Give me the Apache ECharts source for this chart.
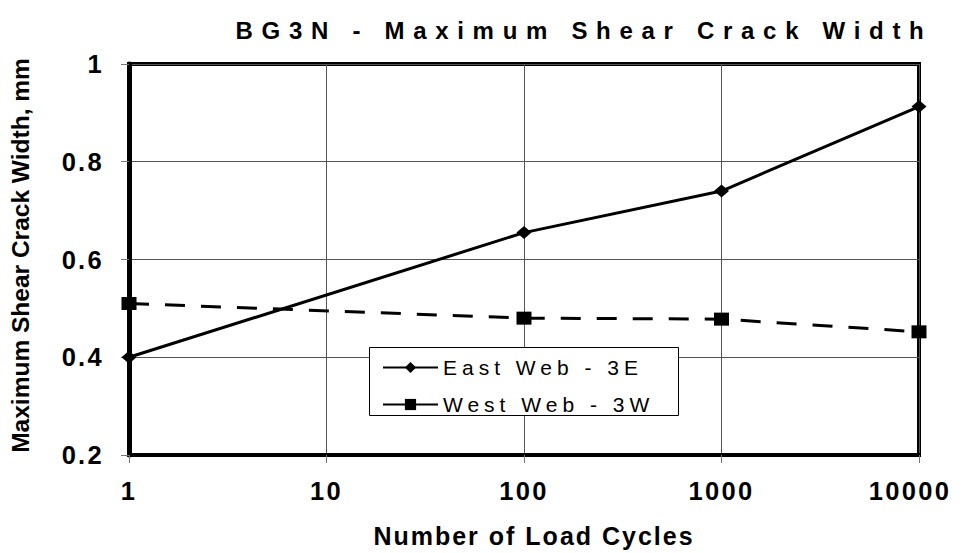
<!DOCTYPE html>
<html>
<head>
<meta charset="utf-8">
<script src="https://cdn.jsdelivr.net/npm/echarts@6/dist/echarts.min.js"></script>
<style>
  html, body { margin: 0; padding: 0; background: #fff; }
  #chart { width: 963px; height: 553px; }
  /* spaced lettering like the original: picked by font size */
  #chart text[style*="24px"] { letter-spacing: 8.7px; }   /* title */
  #chart text[style*="25px"] { letter-spacing: 2px; }     /* x axis name */
  #chart text[style*="21px"] { letter-spacing: 5px; }     /* legend */
  #chart text[style*="25.5px"] { letter-spacing: 2.3px; } /* tick labels */
</style>
</head>
<body>
<div id="chart"></div>
<script>
// load cycles (x) and crack widths in mm (y)
const cycles = [1, 100, 1000, 10000];
const eastWeb = [0.40, 0.655, 0.74, 0.913];
const westWeb = [0.51, 0.48, 0.478, 0.452];
const seriesNames = ['East Web - 3E', 'West Web - 3W'];
const xTickLabels = ['1', '10', '100', '1000', '10000'];

const font = '"Liberation Sans", Arial, sans-serif';
const chart = echarts.init(document.getElementById('chart'), null, { renderer: 'svg' });

const option = {
  backgroundColor: '#fff',
  animation: false,
  grid: {
    left: 124, right: 44, top: 64, bottom: 95,
    show: true,
    borderColor: '#000',
    borderWidth: 4
  },
  graphic: [
    {
      type: 'text',
      x: 584, y: 30,
      style: {
        text: 'BG3N - Maximum Shear Crack Width',
        fontSize: 24, fontWeight: 'bold', fontFamily: font,
        fill: '#000', align: 'center', verticalAlign: 'middle'
      }
    },
    {
      type: 'rect',
      z: 3,
      shape: { x: 369.5, y: 347.5, width: 309, height: 68 },
      style: { fill: '#fff', stroke: '#000', lineWidth: 1 }
    }
  ],
  legend: {
    orient: 'vertical',
    left: 377, top: 352,
    itemWidth: 55, itemHeight: 14, itemGap: 16,
    z: 5,
    lineStyle: { type: 'solid', width: 2 },
    textStyle: { fontSize: 21, fontFamily: font, color: '#000', lineHeight: 21 },
    data: seriesNames
  },
  xAxis: {
    type: 'log',
    logBase: 10,
    min: 1, max: 10000,
    name: 'Number of Load Cycles',
    nameLocation: 'middle',
    nameGap: 68,
    nameTextStyle: { fontSize: 25, fontWeight: 'bold', fontFamily: font, color: '#000', padding: [0, 0, 0, 20] },
    axisLine: { show: true, lineStyle: { color: '#000', width: 4 } },
    axisTick: { show: true, length: 8, lineStyle: { color: '#777' } },
    minorTick: { show: false },
    axisLabel: {
      margin: 23,
      fontSize: 25.5, fontWeight: 'bold', fontFamily: font, color: '#000',
      formatter: v => {
        const i = Math.round(Math.log10(v));
        return i === xTickLabels.length - 1 ? '{last|' + xTickLabels[i] + '}' : xTickLabels[i];
      },
      rich: {
        last: { fontSize: 25.5, fontWeight: 'bold', fontFamily: font, color: '#000', padding: [0, 18, 0, 0] }
      }
    },
    splitLine: { show: true, lineStyle: { color: '#555', width: 1 } }
  },
  yAxis: {
    type: 'value',
    min: 0.2, max: 1, interval: 0.2,
    name: 'Maximum Shear Crack Width, mm',
    nameLocation: 'middle',
    nameGap: 96,
    nameTextStyle: { fontSize: 24.5, fontWeight: 'bold', fontFamily: font, color: '#000', padding: [0, 0, 0, 8] },
    axisLine: { show: true, lineStyle: { color: '#000', width: 5 } },
    axisTick: { show: true, length: 8, lineStyle: { color: '#777' } },
    axisLabel: { margin: 25, fontSize: 25.5, fontWeight: 'bold', fontFamily: font, color: '#000' },
    splitLine: { show: true, lineStyle: { color: '#555', width: 1 } }
  },
  series: [
    {
      name: seriesNames[0],
      type: 'line',
      data: cycles.map((c, i) => [c, eastWeb[i]]),
      symbol: 'diamond',
      symbolSize: [15, 13],
      itemStyle: { color: '#000' },
      lineStyle: { color: '#000', width: 3 },
      z: 4
    },
    {
      name: seriesNames[1],
      type: 'line',
      data: cycles.map((c, i) => [c, westWeb[i]]),
      symbol: 'rect',
      symbolSize: [15, 13],
      itemStyle: { color: '#000' },
      lineStyle: { color: '#000', width: 3, type: [20, 16] },
      z: 4
    }
  ]
};

chart.setOption(option);
</script>
</body>
</html>
